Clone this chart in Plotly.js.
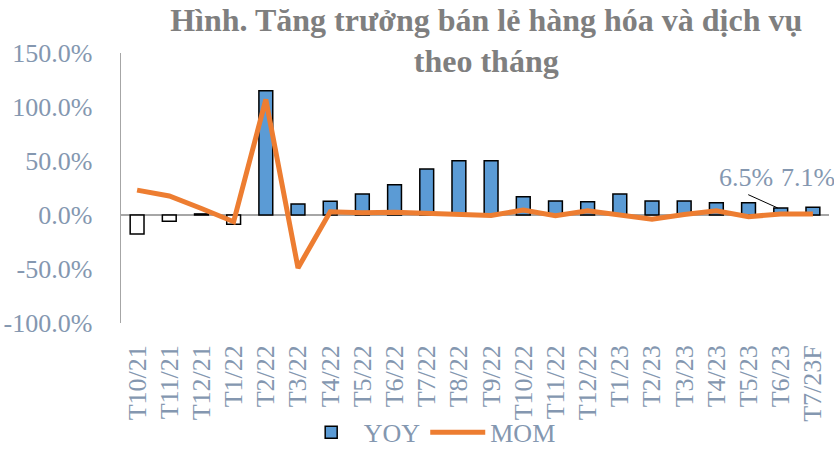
<!DOCTYPE html>
<html><head><meta charset="utf-8">
<script src="https://cdn.plot.ly/plotly-3.0.1.min.js"></script>
<style>html,body{margin:0;padding:0;background:#fff}#c{width:834px;height:450px}</style>
</head><body><div id="c"></div>
<script>
const months = ["T10/21","T11/21","T12/21","T1/22","T2/22","T3/22","T4/22","T5/22","T6/22","T7/22","T8/22","T9/22","T10/22","T11/22","T12/22","T1/23","T2/23","T3/23","T4/23","T5/23","T6/23","T7/23F"];
const yoy = [-17.6,-5.8,1.0,-8.6,115.0,10.2,12.7,19.4,28.0,42.6,50.3,50.3,17.0,13.0,12.3,19.4,13.0,13.0,11.4,11.4,6.5,7.1];
const mom = [23.0,17.6,6.0,-6.2,107.0,-49.0,3.0,2.0,2.5,1.5,0.5,-0.5,4.6,-0.6,4.0,-0.5,-4.0,0.5,4.0,-1.6,1.0,1.0];
const labelled = [["T6/23",6.5,"6.5%",-35,30],["T7/23F",7.1,"7.1%",-5,30]];

const tickColor = "#8497B0";
const serif = "Liberation Serif, Times New Roman, serif";
const blue = "#5B9BD5";

const traces = [
  {type:"bar", name:"YOY", x:months, y:yoy, showlegend:false,
   marker:{color:yoy.map(v=>v<0?"#FFFFFF":blue), line:{color:"#000000", width:1.5}},
   hoverinfo:"skip"},
  {type:"bar", name:"YOY", x:[months[0]], y:[null], showlegend:true,
   marker:{color:blue, line:{color:"#000000", width:1.5}}, hoverinfo:"skip"},
  {type:"scatter", mode:"lines", name:"MOM", x:months, y:mom,
   line:{color:"#ED7D31", width:5}, hoverinfo:"skip"}
];

const annotations = labelled.map(a=>({x:a[0], y:a[1], xref:"x", yref:"y", text:a[2], showarrow:false,
  xshift:a[3], yshift:a[4], font:{family:serif, size:26, color:tickColor}}));
annotations.push({x:labelled[0][0], y:labelled[0][1], xref:"x", yref:"y", text:"", showarrow:true,
  arrowhead:0, arrowwidth:1, arrowcolor:"#000000", ax:-31, ay:-14, standoff:0, xshift:-3});

const layout = {
  width:834, height:450,
  margin:{l:121, r:5, t:53, b:127, autoexpand:false},
  paper_bgcolor:"#FFFFFF", plot_bgcolor:"#FFFFFF",
  title:{text:"<b>Hình. Tăng trưởng bán lẻ hàng hóa và dịch vụ<br>theo tháng</b>",
    font:{family:serif, size:32, color:"#7F7F7F"}, x:0.583, xanchor:"center",
    yref:"container", y:0.932, yanchor:"top", automargin:false},
  bargap:0.57, barmode:"overlay",
  showlegend:true,
  legend:{orientation:"h", x:0.436, xanchor:"center", y:-0.405, yanchor:"middle",
    bgcolor:"rgba(0,0,0,0)", itemwidth:55,
    font:{family:serif, size:26, color:tickColor}, traceorder:"normal"},
  xaxis:{type:"category", range:[-0.5,21.5], showgrid:false, showline:false, zeroline:false,
    tickangle:-90, ticks:"", ticklabelstandoff:16, automargin:false,
    tickfont:{family:serif, size:26, color:tickColor}},
  yaxis:{range:[-100,150], tickvals:[-100,-50,0,50,100,150],
    ticktext:["-100.0%","-50.0%","0.0%","50.0%","100.0%","150.0%"],
    showgrid:false, showline:true, linecolor:"#A6A6A6", linewidth:1.5,
    zeroline:true, zerolinecolor:"#A6A6A6", zerolinewidth:1.5, ticks:"",
    ticklabelstandoff:22, automargin:false,
    tickfont:{family:serif, size:26, color:tickColor}},
  annotations:annotations
};
Plotly.newPlot("c", traces, layout, {displayModeBar:false, staticPlot:true});
</script></body></html>
